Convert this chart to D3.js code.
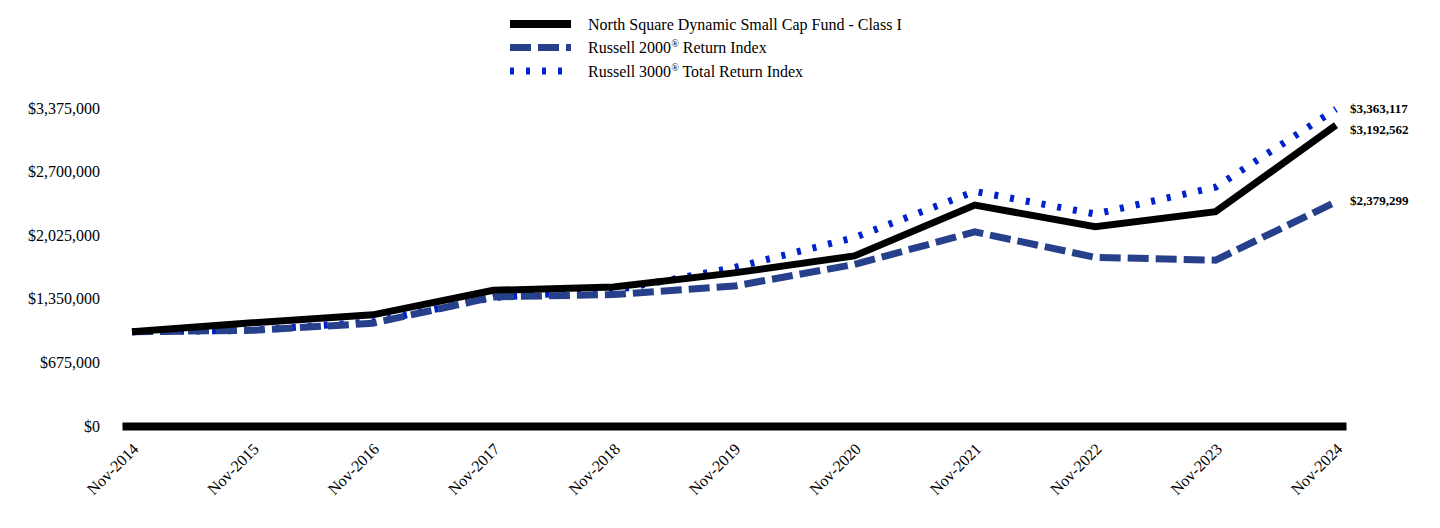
<!DOCTYPE html>
<html>
<head>
<meta charset="utf-8">
<script src="https://cdn.jsdelivr.net/npm/d3@7"></script>
<style>
  body { margin: 0; background: #fff; }
  svg { display: block; font-family: "Liberation Serif", "Times New Roman", serif; }
</style>
</head>
<body>
<div id="chart"></div>
<script>
// data
var periods = ["Nov-2014", "Nov-2015", "Nov-2016", "Nov-2017", "Nov-2018", "Nov-2019",
               "Nov-2020", "Nov-2021", "Nov-2022", "Nov-2023", "Nov-2024"]
var fund   = [1000000, 1095000, 1180000, 1440000, 1475000, 1625000, 1805000, 2345000, 2115000, 2275000, 3192562]
var r2000  = [1000000, 1015000, 1090000, 1370000, 1395000, 1485000, 1715000, 2060000, 1790000, 1760000, 2379299]
var r3000  = [1000000, 1015000, 1105000, 1365000, 1440000, 1680000, 2000000, 2490000, 2250000, 2535000, 3363117]
var yTicks = [0, 675000, 1350000, 2025000, 2700000, 3375000]

var series = [
    {name: "Russell 3000", sup: "®", rest: " Total Return Index", values: r3000, color: "#0022cc", width: 7, dash: "4,12"},
    {name: "Russell 2000", sup: "®", rest: " Return Index", values: r2000, color: "#27408b", width: 7, dash: "21,7"},
    {name: "North Square Dynamic Small Cap Fund - Class I", sup: "", rest: "", values: fund, color: "#000000", width: 7, dash: null}
]

canvas = ({width: 1440, height: 528})

var svg = d3.select("#chart").append("svg")
    .attr("width", canvas.width)
    .attr("height", canvas.height)

x = d3.scalePoint()
    .domain(periods)
    .range([122, 1346])
    .padding(0.083)

y = d3.scaleLinear()
    .domain([0, 3375000])
    .range([426, 108])

// y axis: labels only
svg.append("g")
    .attr("transform", "translate(122,0)")
    .call(d3.axisLeft(y).tickValues(yTicks).tickSize(0).tickPadding(22)
        .tickFormat(d => "$" + d3.format(",")(d)))
    .call(g => g.select(".domain").remove())
    .call(g => g.selectAll("text").attr("font-size", 16).attr("fill", "#000")
        .attr("font-family", "'Liberation Serif', 'Times New Roman', serif"))

// lines
line = d3.line()
    .x((d, i) => x(periods[i]))
    .y(d => y(d))

series.forEach(function(s) {
    svg.append("path")
        .attr("fill", "none")
        .attr("stroke", s.color)
        .attr("stroke-width", s.width)
        .attr("stroke-dasharray", s.dash)
        .attr("stroke-linejoin", "miter")
        .attr("d", line(s.values))
})

// x axis: thick black baseline, rotated labels
svg.append("g")
    .attr("transform", `translate(0,${y(0)})`)
    .call(d3.axisBottom(x).tickSize(0).tickSizeOuter(0))
    .call(g => g.select(".domain").attr("stroke", "#000").attr("stroke-width", 8))
    .call(g => g.selectAll("text")
        .attr("font-size", 16).attr("fill", "#000")
        .attr("font-family", "'Liberation Serif', 'Times New Roman', serif")
        .attr("text-anchor", "end")
        .attr("x", 0).attr("y", 0).attr("dy", "0.35em")
        .attr("transform", "translate(3,20) rotate(-45)"))

// end labels, pushed apart when they collide
var ends = series.map(s => ({v: s.values[s.values.length - 1], y: y(s.values[s.values.length - 1])}))
    .sort((a, b) => a.y - b.y)
for (var i = 1; i < ends.length; i++) {
    if (ends[i].y - ends[i - 1].y < 21) ends[i].y = ends[i - 1].y + 21
}
svg.append("g").selectAll("text")
    .data(ends)
    .join("text")
    .attr("x", x(periods[periods.length - 1]) + 14)
    .attr("y", d => d.y - 1)
    .attr("dy", "0.35em")
    .attr("font-size", 13)
    .attr("font-weight", "bold")
    .attr("fill", "#000")
    .text(d => "$" + d3.format(",")(d.v))

// legend
var legend = svg.append("g")
var legendOrder = [series[2], series[1], series[0]]
legendOrder.forEach(function(s, i) {
    var ly = 24 + i * 23.5
    legend.append("line")
        .attr("x1", 510).attr("x2", 571)
        .attr("y1", ly).attr("y2", ly)
        .attr("stroke", s.color)
        .attr("stroke-width", s === series[2] ? 8 : 7)
        .attr("stroke-dasharray", s.dash)
    var t = legend.append("text")
        .attr("x", 588).attr("y", ly)
        .attr("dy", "0.35em")
        .attr("font-size", 16)
        .attr("fill", "#000")
    t.append("tspan").text(s.name)
    if (s.sup) {
        t.append("tspan").attr("font-size", 10).attr("dy", -6).text(s.sup)
        t.append("tspan").attr("dy", 6).text(s.rest)
    }
})
</script>
</body>
</html>
